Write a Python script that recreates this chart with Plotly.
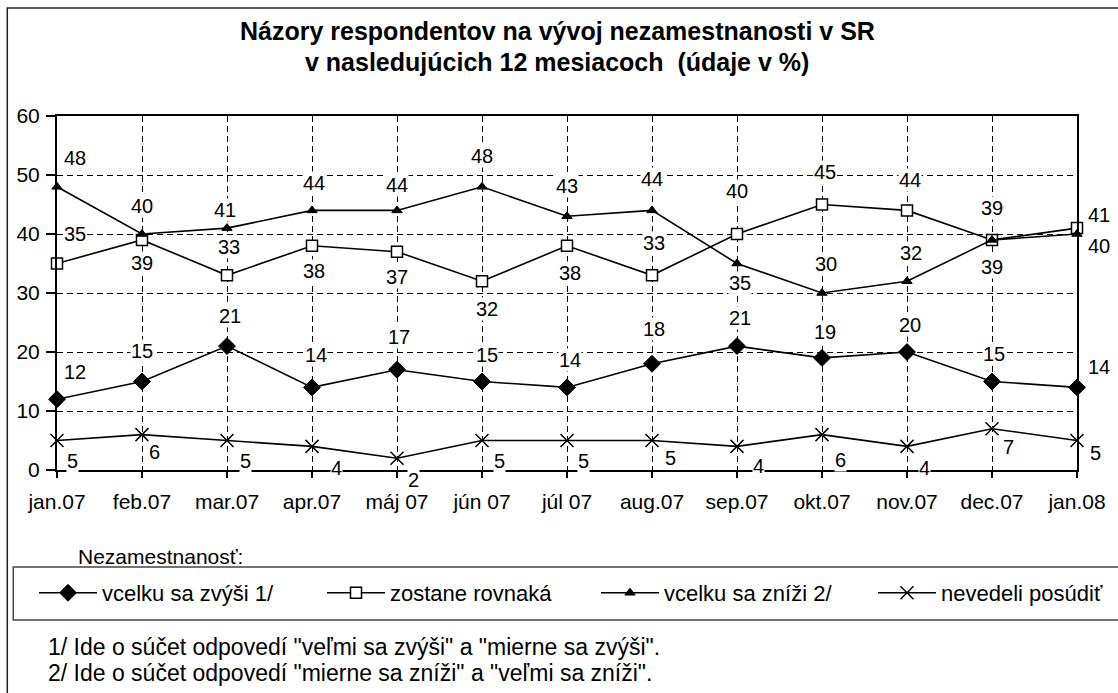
import plotly.graph_objects as go

months = ["jan.07", "feb.07", "mar.07", "apr.07", "máj 07", "jún 07", "júl 07",
          "aug.07", "sep.07", "okt.07", "nov.07", "dec.07", "jan.08"]
zvysi = [12, 15, 21, 14, 17, 15, 14, 18, 21, 19, 20, 15, 14]
rovnaka = [35, 39, 33, 38, 37, 32, 38, 33, 40, 45, 44, 39, 41]
znizi = [48, 40, 41, 44, 44, 48, 43, 44, 35, 30, 32, 39, 40]
nevedeli = [5, 6, 5, 4, 2, 5, 5, 5, 4, 6, 4, 7, 5]

names = ["vcelku sa zvýši 1/", "zostane rovnaká", "vcelku sa zníži 2/", "nevedeli posúdiť"]
title_lines = ["Názory respondentov na vývoj nezamestnanosti v SR",
               "v nasledujúcich 12 mesiacoch  (údaje v %)"]
legend_title = "Nezamestnanosť:"
notes = ['1/ Ide o súčet odpovedí "veľmi sa zvýši" a "mierne sa zvýši".',
         '2/ Ide o súčet odpovedí "mierne sa zníži" a "veľmi sa zníži".']

# label offsets (screen px: dx right, dy down)
off_zvysi = [(18, -27), (0, -31), (3, -30), (4, -32), (2, -33), (5, -27), (3, -27),
             (2, -35), (3, -28), (3, -26), (3, -27), (2, -28), (22, -20)]
off_rovnaka = [(18, -30), (0, 23), (2, -28), (2, 25), (0, 25), (5, 28), (3, 27),
               (2, -32), (0, -43), (3, -33), (3, -30), (0, -32), (22, -13)]
off_znizi = [(18, -29), (0, -28), (-2, -18), (2, -27), (0, -25), (0, -31), (0, -30),
             (0, -31), (3, 19), (4, -29), (4, -28), (0, 27), (22, 12)]
off_nevedeli = [(15, 20), (12, 17), (18, 20), (24, 22), (16, 22), (17, 20), (16, 20),
                (18, 17), (21, 20), (18, 25), (17, 22), (16, 18), (18, 12)]

W, H = 1118, 693
L, R, T, B = 57, 1083, 116, 470
FONT = "Liberation Sans, Arial, sans-serif"


def pxx(p):
    return (p - L) / (R - L)


def pxy(p):
    return (B - p) / (B - T)


styles = [
    dict(symbol="diamond", size=13, color="black", line=dict(color="black", width=1)),
    dict(symbol="square", size=11, color="white", line=dict(color="black", width=1.5)),
    dict(symbol="triangle-up", size=9, color="black", line=dict(color="black", width=1)),
    dict(symbol="x-thin", size=13, color="black", line=dict(color="black", width=1.5)),
]
series = [zvysi, rovnaka, znizi, nevedeli]
offsets = [off_zvysi, off_rovnaka, off_znizi, off_nevedeli]
legend_x = [34, 322, 596, 873]

fig = go.Figure()
for k, (vals, st, nm) in enumerate(zip(series, styles, names)):
    fig.add_trace(go.Scatter(
        x=months, y=vals, name=nm, mode="lines+markers",
        line=dict(color="black", width=1.6),
        marker=st, cliponaxis=False,
        legend="legend" if k == 0 else f"legend{k+1}",
    ))

annotations = []
for vals, offs in zip(series, offsets):
    for m, v, (dx, dy) in zip(months, vals, offs):
        annotations.append(dict(
            x=m, y=v, xref="x", yref="y", text=str(v), showarrow=False,
            xshift=dx, yshift=-dy, bgcolor="white", borderpad=0,
            xanchor="center", yanchor="middle",
            font=dict(family=FONT, size=20, color="black")))

for i, t in enumerate(title_lines):
    annotations.append(dict(x=pxx(560), y=pxy(31 + 31 * i), xref="paper", yref="paper",
                            text="<b>" + t + "</b>", showarrow=False,
                            xanchor="center", yanchor="middle",
                            font=dict(family=FONT, size=25, color="black")))
annotations.append(dict(x=pxx(76), y=pxy(556), xref="paper", yref="paper",
                        text=legend_title, showarrow=False, xanchor="left",
                        yanchor="middle",
                        font=dict(family=FONT, size=21, color="black")))
for i, t in enumerate(notes):
    annotations.append(dict(x=pxx(46), y=pxy(647 + 26 * i), xref="paper", yref="paper",
                            text=t, showarrow=False, xanchor="left", yanchor="middle",
                            font=dict(family=FONT, size=23, color="black")))

shapes = [
    dict(type="rect", xref="paper", yref="paper", x0=pxx(7), x1=pxx(1130),
         y0=pxy(8), y1=pxy(710), line=dict(color="#222", width=1.5)),
    dict(type="rect", xref="paper", yref="paper", x0=pxx(13), x1=pxx(1130),
         y0=pxy(567), y1=pxy(620), line=dict(color="#444", width=1.5)),
]

legend_common = dict(xref="container", yref="container", xanchor="left", yanchor="middle",
                     orientation="h", bgcolor="rgba(0,0,0,0)", borderwidth=0,
                     itemwidth=58, font=dict(family=FONT, size=22, color="black"))
layout_legends = {}
for k, lx in enumerate(legend_x):
    key = "legend" if k == 0 else f"legend{k+1}"
    layout_legends[key] = dict(legend_common, x=lx / W, y=1 - 593 / H)

fig.update_layout(
    width=W, height=H, autosize=False,
    margin=dict(l=L, r=W - R, t=T, b=H - B, pad=0),
    paper_bgcolor="white", plot_bgcolor="white",
    showlegend=True,
    font=dict(family=FONT, size=20, color="black"),
    xaxis=dict(type="category", range=[0, 12], showgrid=True, gridcolor="black",
               gridwidth=1, griddash="6px,4px", showline=True, linecolor="black",
               linewidth=2, mirror=True, ticks="outside", ticklen=6, tickcolor="black",
               tickwidth=1.5, ticklabelstandoff=6,
               tickfont=dict(family=FONT, size=21, color="black")),
    yaxis=dict(range=[0, 60], dtick=10, showgrid=True, gridcolor="black", gridwidth=1,
               griddash="6px,4px", zeroline=False, showline=True, linecolor="black",
               linewidth=2, mirror=True, ticks="outside", ticklen=9, tickcolor="black",
               tickwidth=1.5, ticklabelstandoff=2,
               tickfont=dict(family=FONT, size=21, color="black")),
    annotations=annotations,
    shapes=shapes,
    **layout_legends,
)

fig.write_html("out.html", config={"displayModeBar": False},
               post_script="document.body.style.margin='0px';")
